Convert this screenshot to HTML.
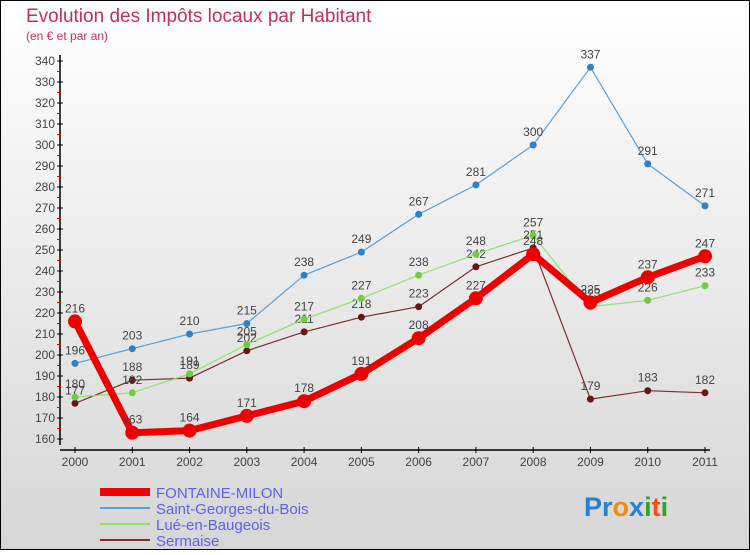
<!DOCTYPE html>
<html><head><meta charset="utf-8"><style>
html,body{margin:0;padding:0;}
body{width:750px;height:550px;overflow:hidden;font-family:"Liberation Sans",sans-serif;}
</style></head><body>
<svg id="chart" width="750" height="550" xmlns="http://www.w3.org/2000/svg">
<defs><linearGradient id="bg" x1="0" y1="0" x2="0" y2="1"><stop offset="0" stop-color="#ffffff"/><stop offset="1" stop-color="#d6d6d6"/></linearGradient></defs>
<rect x="0.5" y="0.5" width="749" height="549" fill="url(#bg)" stroke="#000" stroke-width="1"/>
<text x="26" y="22" font-size="19" fill="#c0305a">Evolution des Impôts locaux par Habitant</text>
<text x="26" y="40" font-size="12" fill="#c0305a">(en € et par an)</text>
<g id="axes"></g>
<g id="series"></g>
<g id="legend"></g>
<g font-size="27" font-weight="bold">
<text x="584" y="516"><tspan fill="#2a7fd0">Pr</tspan><tspan fill="#f08a10">o</tspan><tspan fill="#2a7fd0">x</tspan><tspan fill="#30a030">i</tspan><tspan fill="#f05010">t</tspan><tspan fill="#30a030">i</tspan></text>
</g>
</svg>
<script>
const years=[2000,2001,2002,2003,2004,2005,2006,2007,2008,2009,2010,2011];
const yTicks=[160,170,180,190,200,210,220,230,240,250,260,270,280,290,300,310,320,330,340];
const fontaine=[216,163,164,171,178,191,208,227,248,225,237,247];
const saintGeorges=[196,203,210,215,238,249,267,281,300,337,291,271];
const lue=[180,182,191,205,217,227,238,248,257,223,226,233];
const sermaise=[177,188,189,202,211,218,223,242,251,179,183,182];
const NS="http://www.w3.org/2000/svg";
const X=i=>75+i*(630/11);
const Y=v=>439-(v-160)*2.1;
function mk(tag,attrs,parent){const e=document.createElementNS(NS,tag);for(const k in attrs)e.setAttribute(k,attrs[k]);parent.appendChild(e);return e;}
const axes=document.getElementById('axes');
const ya=mk('line',{x1:60,y1:55,x2:60,y2:445,stroke:'#000','stroke-width':1.5},axes);


const xa=mk('line',{x1:60,y1:450,x2:710,y2:450,stroke:'#000','stroke-width':1.5},axes);


yTicks.forEach((v,i)=>{
 mk('line',{x1:57,y1:Y(v),x2:63,y2:Y(v),stroke:'#000'},axes);
 if(i<yTicks.length-1) mk('line',{x1:57,y1:Y(v+5),x2:61,y2:Y(v+5),stroke:'#e00'},axes);
 const t=mk('text',{x:55,y:Y(v)+4,'text-anchor':'end','font-size':12,fill:'#444'},axes);
 t.textContent=v;
 
 
});
years.forEach((y,i)=>{
 mk('line',{x1:X(i),y1:447,x2:X(i),y2:453,stroke:'#000'},axes);
 const t=mk('text',{x:X(i),y:466,'text-anchor':'middle','font-size':12,fill:'#444'},axes);
 t.textContent=y;
 
 
});
const series=[
 {name:'sermaise',data:sermaise,color:'#7a3030',dot:'#6a1515',w:1.2,r:3.5},
 {name:'lue-en-baugeois',data:lue,color:'#90e070',dot:'#70cc40',w:1.2,r:3.5},
 {name:'saint-georges-du-bois',data:saintGeorges,color:'#5aa0d8',dot:'#3080c8',w:1.2,r:3.5},
 {name:'fontaine-milon',data:fontaine,color:'#ee0000',dot:'#ee0000',w:7,r:7}
];
const sg=document.getElementById('series');
series.forEach(s=>{
 const g=mk('g',{},sg);
 
 
 const p=mk('polyline',{points:s.data.map((v,i)=>X(i)+','+Y(v)).join(' '),fill:'none',stroke:s.color,'stroke-width':s.w,'stroke-linejoin':'round'},g);
 
 
 s.data.forEach((v,i)=>{
  const c=mk('circle',{cx:X(i),cy:Y(v),r:s.r,fill:s.dot},g);
  
  
  const t=mk('text',{x:X(i),y:Y(v)-9,'text-anchor':'middle','font-size':12,fill:'#444'},g);
  t.textContent=v;
  
  
 });
});
const lg=document.getElementById('legend');
const items=[['FONTAINE-MILON','#ee0000',8],['Saint-Georges-du-Bois','#5aa0d8',2],['Lué-en-Baugeois','#90e070',2],['Sermaise','#7a3030',2]];
items.forEach((it,i)=>{
 const y=492+i*16;
 const l=mk('line',{x1:100,y1:y,x2:150,y2:y,stroke:it[1],'stroke-width':it[2]},lg);
 
 
 const t=mk('text',{x:156,y:y+6,'font-size':15,fill:'#6060f0'},lg);
 t.textContent=it[0];
 
 
});
</script>
</body></html>
